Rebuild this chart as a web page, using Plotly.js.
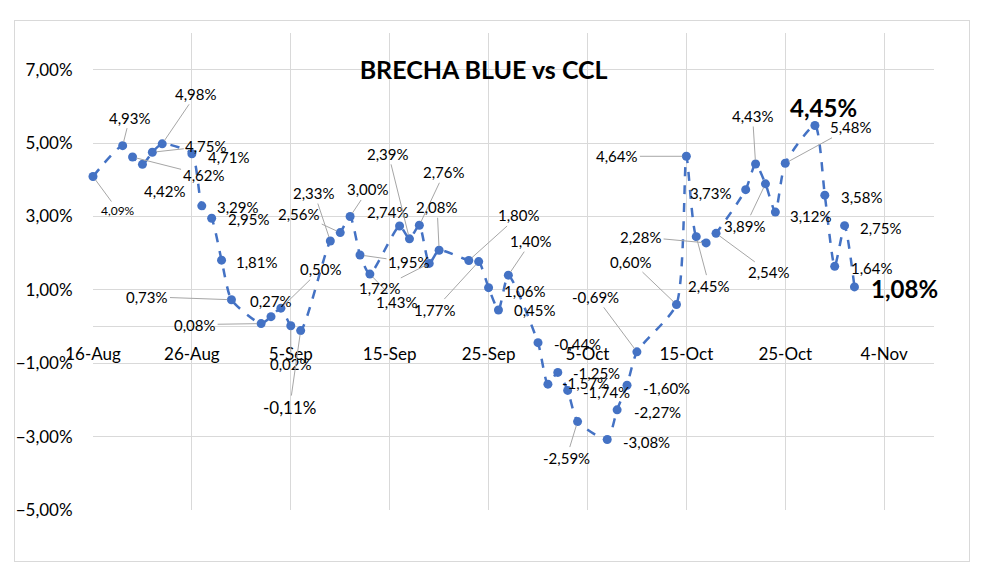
<!DOCTYPE html>
<html>
<head>
<meta charset="utf-8">
<script src="https://cdn.plot.ly/plotly-3.0.1.min.js"></script>
<style>
  html, body { margin: 0; padding: 0; background: #fff; }
  #chart { width: 981px; height: 577px; }
  #frame { position: absolute; left: 14px; top: 20px; width: 954px; height: 540px; border: 1px solid #d9d9d9; pointer-events: none; }
</style>
</head>
<body>
<div id="chart"></div>
<div id="frame"></div>
<script>
// ---- data ----
const dates = [
  '2024-08-16','2024-08-19','2024-08-20','2024-08-21','2024-08-22','2024-08-23','2024-08-26','2024-08-27','2024-08-28','2024-08-29','2024-08-30',
  '2024-09-02','2024-09-03','2024-09-04','2024-09-05','2024-09-06','2024-09-09','2024-09-10','2024-09-11','2024-09-12','2024-09-13',
  '2024-09-16','2024-09-17','2024-09-18','2024-09-19','2024-09-20','2024-09-23','2024-09-24','2024-09-25','2024-09-26','2024-09-27',
  '2024-09-30','2024-10-01','2024-10-02','2024-10-03','2024-10-04','2024-10-07','2024-10-08','2024-10-09','2024-10-10',
  '2024-10-14','2024-10-15','2024-10-16','2024-10-17','2024-10-18','2024-10-21','2024-10-22','2024-10-23','2024-10-24','2024-10-25',
  '2024-10-28','2024-10-29','2024-10-30','2024-10-31','2024-11-01'
];
const brecha = [
  4.09,4.93,4.62,4.42,4.75,4.98,4.71,3.29,2.95,1.81,0.73,
  0.08,0.27,0.50,0.02,-0.11,2.33,2.56,3.00,1.95,1.43,
  2.74,2.39,2.76,1.72,2.08,1.80,1.77,1.06,0.45,1.40,
  -0.44,-1.57,-1.25,-1.74,-2.59,-3.08,-2.27,-1.60,-0.69,
  0.60,4.64,2.45,2.28,2.54,3.73,4.43,3.89,3.12,4.45,
  5.48,3.58,1.64,2.75,1.08
];
// label texts as printed on the chart (two of them appear swapped in the original)
const labelTexts = [
  '4,09%','4,93%','4,62%','4,42%','4,75%','4,98%','4,71%','3,29%','2,95%','1,81%','0,73%',
  '0,08%','0,27%','0,50%','0,02%','-0,11%','2,33%','2,56%','3,00%','1,95%','1,43%',
  '2,74%','2,39%','2,76%','1,72%','2,08%','1,80%','1,77%','1,06%','0,45%','1,40%',
  '-0,44%','-1,57%','-1,25%','-1,74%','-2,59%','-3,08%','-2,27%','-1,60%','-0,69%',
  '0,60%','4,64%','2,45%','2,28%','2,54%','3,73%','4,43%','3,89%','3,12%','5,48%',
  '4,45%','3,58%','1,64%','2,75%','1,08%'
];
const chartTitle = 'BRECHA BLUE vs CCL';

// ---- label placement (pixel offsets from point: dx, dy, leader line 1/0) ----
const labelPlacement = [
  [25,34,1],[7,-28,1],[71,18,1],[23,27,0],[54,-6,1],[34,-50,1],[37,3,0],[36,1,0],[37,1,0],[35,2,0],[-84,-3,1],
  [-66,1,1],[0,-16,0],[40,-39,1],[0,38,1],[-11,77,1],[-16,-48,1],[-41,-19,1],[18,-27,1],[49,7,1],[27,28,1],
  [-12,-14,0],[-21,-85,1],[25,-53,1],[-49,25,1],[-2,-43,1],[50,-45,1],[-44,48,1],[36,3,0],[37,0,0],[23,-34,1],
  [39,1,0],[38,-1,0],[39,1,0],[39,2,0],[-11,36,1],[39,2,0],[40,2,0],[39,3,0],[-41,-55,1],
  [-45,-43,1],[-69,0,1],[13,49,1],[-65,-6,1],[53,39,1],[-35,3,0],[-3,-48,1],[-20,42,1],[36,4,0],[66,-36,1],
  [9,-18,0],[37,2,0],[37,2,0],[36,2,0],[50,2,0]
];
const specialSize = {0: 12, 15: 17};
const boldIdx = {50: true, 54: true};

const FONT = 'Lato, "Open Sans", sans-serif';

const annotations = dates.map((d, i) => {
  const p = labelPlacement[i];
  const bold = !!boldIdx[i];
  return {
    x: d, y: brecha[i], xref: 'x', yref: 'y',
    text: bold ? '<b>' + labelTexts[i] + '</b>' : labelTexts[i],
    showarrow: true, arrowhead: 0, arrowwidth: 1,
    arrowcolor: p[2] ? '#a6a6a6' : 'rgba(0,0,0,0)',
    standoff: 4,
    ax: p[0], ay: p[1],
    font: { family: FONT, size: bold ? 24 : (specialSize[i] || 15), color: '#000' }
  };
});

const trace = {
  x: dates, y: brecha, type: 'scatter', mode: 'lines+markers',
  line: { color: '#4472C4', width: 2.5, dash: 'dash', shape: 'spline', smoothing: 0.6 },
  marker: { color: '#4472C4', size: 9 },
  cliponaxis: false,
  hoverinfo: 'skip'
};

const layout = {
  width: 981, height: 577,
  margin: { l: 93, r: 47, t: 33, b: 67 },
  paper_bgcolor: '#fff', plot_bgcolor: '#fff',
  separators: ',.',
  showlegend: false,
  font: { family: FONT, color: '#000' },
  title: {
    text: '<b>' + chartTitle + '</b>',
    x: 0.493, xanchor: 'center', y: 1 - 70/577, yanchor: 'middle',
    font: { family: FONT, size: 25, color: '#000' }
  },
  xaxis: {
    type: 'date',
    range: ['2024-08-16', '2024-11-09 01:00'],
    tick0: '2024-08-16', dtick: 86400000 * 10,
    tickformat: '%-d-%b',
    anchor: 'free', position: 5/13, side: 'bottom',
    showgrid: true, gridcolor: '#d9d9d9', gridwidth: 1,
    showline: false, zeroline: false,
    ticks: 'outside', ticklen: 12, tickcolor: 'rgba(0,0,0,0)',
    tickfont: { family: FONT, size: 17, color: '#000' },
    fixedrange: true
  },
  yaxis: {
    range: [-5, 8],
    tick0: -5, dtick: 2,
    tickformat: '.2f', ticksuffix: '%',
    showgrid: true, gridcolor: '#d9d9d9', gridwidth: 1,
    zeroline: true, zerolinecolor: '#d9d9d9', zerolinewidth: 1,
    showline: false,
    ticks: 'outside', ticklen: 16, tickcolor: 'rgba(0,0,0,0)',
    tickfont: { family: FONT, size: 17, color: '#000' },
    fixedrange: true
  },
  annotations: annotations
};

Plotly.newPlot('chart', [trace], layout, { displayModeBar: false, staticPlot: true });
</script>
</body>
</html>
